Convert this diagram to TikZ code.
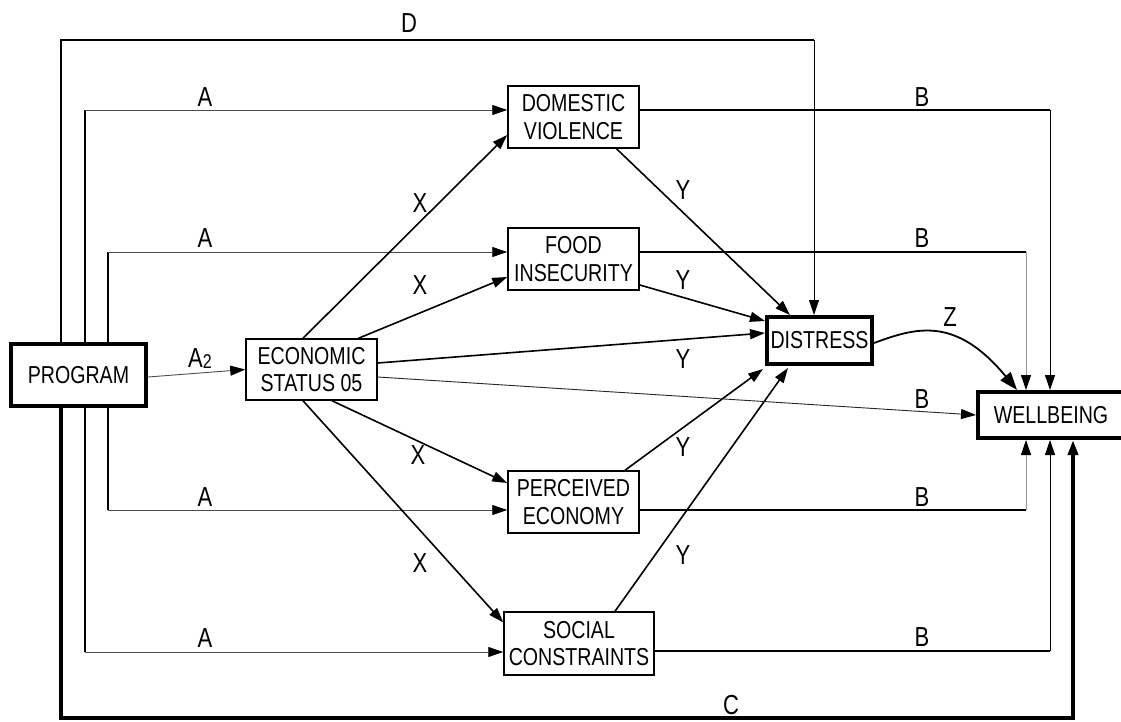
\documentclass[tikz,border=0pt]{standalone}
\usepackage{fontspec}
\setmainfont{Liberation Sans}[FakeStretch=0.8]
\usetikzlibrary{arrows.meta,calc}
\newcommand\bxfont{\fontsize{24.5}{27.5}\selectfont}
\newcommand\lbfont{\fontsize{27.5}{30}\selectfont}
\begin{document}
\begin{tikzpicture}[x=1pt,y=-1pt,
  >={Triangle[length=15pt,width=10pt,color=black]},
  box/.style={draw, line width=1.5pt, inner sep=0pt, align=center, font=\bxfont},
  thickbox/.style={box, line width=4pt},
  lbl/.style={inner sep=0pt, font=\lbfont},
  mid/.style={line width=1.6pt},
  lane/.style={line width=1.5pt},
  athin/.style={line width=0.9pt, draw=black!70},
  gthin/.style={line width=1pt, draw=black!40},
  bthin/.style={line width=1pt, draw=black},
  heavy/.style={line width=4pt}]
\useasboundingbox (0,0) rectangle (1121,722);
\clip (0,0) rectangle (1121,722);
% nodes
\node[thickbox, minimum width=135pt, minimum height=62pt] (prog) at (78.5,375) {PROGRAM};
\node[box, minimum width=131pt, minimum height=61pt] (econ) at (311.5,369.5) {ECONOMIC\\STATUS 05};
\node[box, minimum width=131pt, minimum height=62pt] (dv) at (573.5,117) {DOMESTIC\\VIOLENCE};
\node[box, minimum width=131pt, minimum height=62pt] (fi) at (573.5,259) {FOOD\\INSECURITY};
\node[box, minimum width=131pt, minimum height=62pt] (pe) at (573.5,502) {PERCEIVED\\ECONOMY};
\node[box, minimum width=150pt, minimum height=63pt] (sc) at (579,643.5) {SOCIAL\\CONSTRAINTS};
\node[thickbox, minimum width=105pt, minimum height=47pt] (dis) at (819.5,340.5) {DISTRESS};
\node[thickbox, minimum width=146pt, minimum height=46pt] (well) at (1051,415) {WELLBEING};
% lanes
\coordinate (lD) at (61,40);
\coordinate (l1) at (85,0);
\coordinate (l2) at (108,0);
\coordinate (dD) at (814,40);
\coordinate (r1) at (1026,0);
\coordinate (r2) at (1050,0);
\coordinate (rC) at (1073,718);
% A endpoints
\coordinate (aDV) at ([yshift=7pt]dv.west);
\coordinate (aFI) at ([yshift=7pt]fi.west);
\coordinate (aPE) at ([yshift=-8pt]pe.west);
\coordinate (aSC) at ([yshift=-8.5pt]sc.west);
% B start points
\coordinate (bDV) at ([yshift=7pt]dv.east);
\coordinate (bFI) at ([yshift=7pt]fi.east);
\coordinate (bPE) at ([yshift=-8pt]pe.east);
\coordinate (bSC) at ([yshift=-7.5pt]sc.east);
% D path
\draw[line width=1.3pt] (prog.north -| lD) |- (dD);
\draw[line width=1pt,->] (dD) -- (dis.north -| dD);
% C path
\draw[heavy,->] (prog.south -| lD) |- (rC) -- (well.south -| rC);
% A paths
\draw[lane] (prog.north -| l1) -- (l1 |- aDV);
\draw[athin,->] (l1 |- aDV) -- (aDV);
\draw[lane] (prog.north -| l2) -- (l2 |- aFI);
\draw[athin,->] (l2 |- aFI) -- (aFI);
\draw[lane] (prog.south -| l2) -- (l2 |- aPE);
\draw[athin,->] (l2 |- aPE) -- (aPE);
\draw[lane] (prog.south -| l1) -- (l1 |- aSC);
\draw[athin,->] (l1 |- aSC) -- (aSC);
% A2
\draw[athin,->] ([yshift=-2pt]prog.east) -- (econ.west -| econ.west);
% X paths
\draw[mid,->] ([xshift=-8.5pt]econ.north) -- ([yshift=-18pt]dv.west);
\draw[mid,->] ([xshift=47pt]econ.north) -- ([yshift=-18pt]fi.west);
\draw[mid,->] ([xshift=20.5pt]econ.south) -- ([yshift=19pt]pe.west);
\draw[mid,->] ([xshift=-8.5pt]econ.south) -- ([yshift=21pt]sc.west);
% Y paths
\draw[mid,->] ([xshift=43pt]dv.south) -- ([xshift=-29.5pt]dis.north);
\draw[mid,->] ([yshift=-26pt]fi.east) -- ([yshift=19.5pt]dis.west);
\draw[mid,->] ([yshift=6.5pt]econ.east) -- ([yshift=7.5pt]dis.west);
\draw[mid,->] ([xshift=51.5pt]pe.north) -- ([xshift=-2pt,yshift=-3pt]dis.south west);
\draw[mid,->] ([xshift=36pt]sc.north) -- ([xshift=-31.5pt,yshift=-2pt]dis.south);
% B from economic
\draw[line width=0.9pt, draw=black!85,->] ([yshift=-7.5pt]econ.east) -- (well.west);
% B paths
\draw[mid] (bDV) -- (bDV -| r2);
\draw[bthin,->] (bDV -| r2) -- (well.north -| r2);
\draw[mid] (bFI) -- (bFI -| r1);
\draw[gthin,->] (bFI -| r1) -- (well.north -| r1);
\draw[mid] (bPE) -- (bPE -| r1);
\draw[gthin,->] (bPE -| r1) -- (well.south -| r1);
\draw[mid] (bSC) -- (bSC -| r2);
\draw[bthin,->] (bSC -| r2) -- (well.south -| r2);
% Z
\draw[line width=1.8pt, -{Triangle[length=18pt,width=13pt]}] ([yshift=-2.5pt]dis.east) .. controls (915,328) and (955,315) .. ([xshift=-34pt]well.north);
% labels
\node[lbl] (tD) at (409,23) {D};
\node[lbl] (tA1) at (205,97) {A};
\node[lbl] (tA2) at (205,238) {A};
\node[lbl] (tA3) at (205,497) {A};
\node[lbl] (tA4) at (205,638) {A};
\node[lbl, anchor=base west] (tA5) at (188,367) {A\raisebox{-1.5pt}{\fontsize{20}{20}\selectfont 2}};
\node[lbl] (tX1) at (420,203) {X};
\node[lbl] (tX2) at (420,285) {X};
\node[lbl] (tX3) at (418,455) {X};
\node[lbl] (tX4) at (420,563) {X};
\node[lbl] (tY1) at (683,190) {Y};
\node[lbl] (tY2) at (683,280) {Y};
\node[lbl] (tY3) at (683,359) {Y};
\node[lbl] (tY4) at (683,447) {Y};
\node[lbl] (tY5) at (683,555) {Y};
\node[lbl] (tB1) at (922,97) {B};
\node[lbl] (tB2) at (922,238) {B};
\node[lbl] (tB3) at (922,399) {B};
\node[lbl] (tB4) at (922,497) {B};
\node[lbl] (tB5) at (922,637) {B};
\node[lbl] (tZ) at (950,317) {Z};
\node[lbl] (tC) at (731,705) {C};
\end{tikzpicture}
\end{document}
